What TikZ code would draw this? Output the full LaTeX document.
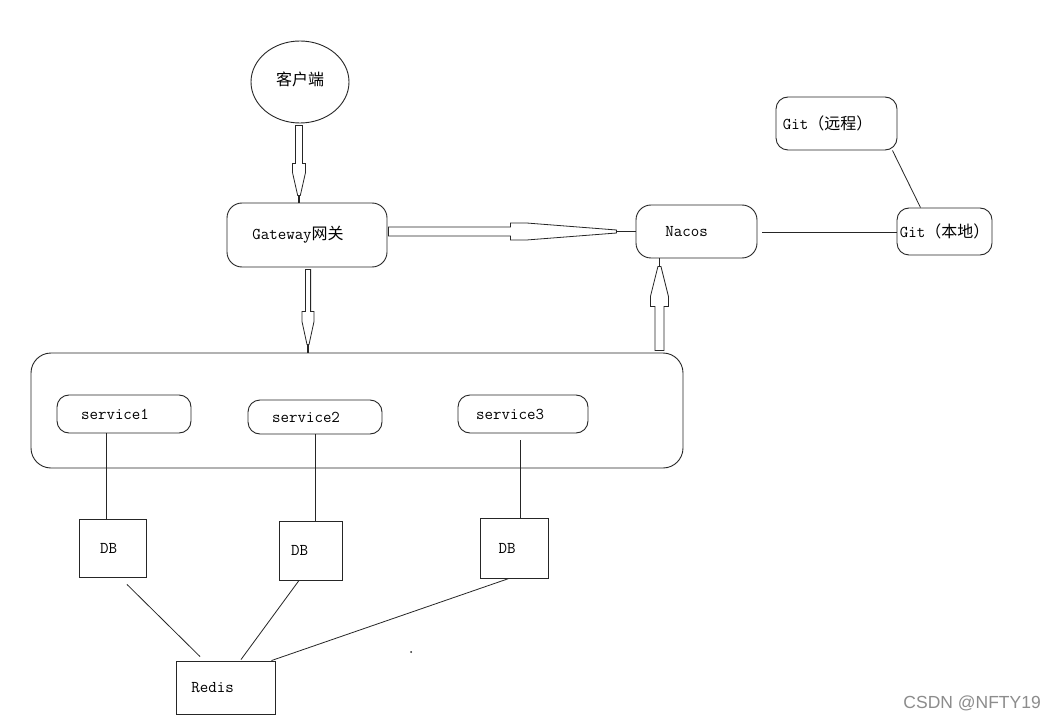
\documentclass[tikz,border=0pt]{standalone}
\usepackage{fontspec}
\newfontfamily\cjk{Noto Sans CJK SC}
\newfontfamily\wmfont{Liberation Sans}
\usetikzlibrary{calc,shapes.geometric}
\newcommand{\sh}[2]{\kern-#1pt#2\kern#1pt}
\newcommand{\zh}[1]{{\cjk\fontsize{16}{18}\selectfont #1}}
% vertical hollow arrow: start, end, dir(+1 down,-1 up), shaft half, head half, d step, d straight, d tip, tip half
\newcommand{\vhollow}[9]{%
\draw[hollow] ($(#1)+({-(#4)},{(#3)*2})$) -- ($(#2)+({-(#4)},{-(#3)*(#6)})$) -- ($(#2)+({-(#5)},{-(#3)*(#6)})$) -- ($(#2)+({-(#5)},{-(#3)*(#7)})$) -- ($(#2)+({-(#9)},{-(#3)*(#8)})$) -- ($(#2)+({#9},{-(#3)*(#8)})$) -- ($(#2)+({#5},{-(#3)*(#7)})$) -- ($(#2)+({#5},{-(#3)*(#6)})$) -- ($(#2)+({#4},{-(#3)*(#6)})$) -- ($(#1)+({#4},{(#3)*2})$) -- cycle;
\draw[tipline] ($(#2)+(0,{-(#3)*(#8)})$) -- (#2);}
% horizontal hollow arrow
\newcommand{\hhollow}[9]{%
\draw[hollow] ($(#1)+({(#3)*1},{-(#4)})$) -- ($(#2)+({-(#3)*(#6)},{-(#4)})$) -- ($(#2)+({-(#3)*(#6)},{-(#5)})$) -- ($(#2)+({-(#3)*(#7)},{-(#5)})$) -- ($(#2)+({-(#3)*(#8)},{-(#9)})$) -- ($(#2)+({-(#3)*(#8)},{#9})$) -- ($(#2)+({-(#3)*(#7)},{#5})$) -- ($(#2)+({-(#3)*(#6)},{#5})$) -- ($(#2)+({-(#3)*(#6)},{#4})$) -- ($(#1)+({(#3)*1},{#4})$) -- cycle;
\draw[tipline] ($(#2)+({-(#3)*(#8)},0)$) -- (#2);}
\begin{document}
\begin{tikzpicture}[x=1pt,y=-1pt,
  every node/.style={font=\ttfamily\fontsize{16.5}{18}\selectfont, inner sep=0pt},
  rbox/.style={draw=black!85, line width=0.9pt, rounded corners=12pt},
  sbox/.style={draw=black!85, line width=0.9pt},
  ell/.style={draw=black!85, line width=0.9pt, ellipse},
  ln/.style={draw=black!85, line width=0.8pt},
  hollow/.style={draw=black!85, fill=white, line width=0.8pt, line join=miter},
  tipline/.style={draw=black!85, line width=1.6pt}]
\useasboundingbox (0,0) rectangle (1054,719);
\fill[white] (0,0) rectangle (1054,719);

% nodes
\node[ell, minimum width=98, minimum height=82] (client) at (300,82) {\raisebox{6pt}{\zh{客户端}}};
\node[rbox, rounded corners=15pt, minimum width=160, minimum height=64] (gw) at (307,235) {\sh{9}{Gateway\zh{网关}}};
\node[rbox, rounded corners=15pt, minimum width=121, minimum height=53] (nacos) at (696.5,231.5) {\sh{10}{Nacos}};
\node[rbox, minimum width=121, minimum height=53] (gitr) at (836.5,123.5) {\sh{9}{Git\zh{（远程）}}};
\node[rbox, minimum width=95, minimum height=47] (gitl) at (944.5,231.5) {Git\zh{（本地）}};
\node[rbox, rounded corners=20pt, minimum width=652, minimum height=115] (cont) at (357,410.5) {};
\node[rbox, minimum width=134, minimum height=38] (s1) at (124,414) {\sh{9}{service1}};
\node[rbox, minimum width=134, minimum height=34] (s2) at (315,417) {\sh{9}{service2}};
\node[rbox, minimum width=130, minimum height=38] (s3) at (523,414) {\sh{13}{service3}};
\node[sbox, minimum width=67, minimum height=58] (db1) at (112.5,548) {\sh{4}{DB}};
\node[sbox, minimum width=63, minimum height=59] (db2) at (310.5,550.5) {\sh{11}{DB}};
\node[sbox, minimum width=68, minimum height=60] (db3) at (514,548) {\sh{7}{DB}};
\node[sbox, minimum width=99, minimum height=53] (redis) at (225.5,687.5) {\sh{13}{Redis}};
\node[anchor=east, text=black!45, font=\wmfont\fontsize{17.5}{20}\selectfont] (wm) at (1041,703) {CSDN @NFTY19};

% hollow arrows
\coordinate (a1s) at ($(client.south)+(-1,0)$);
\coordinate (a1e) at (a1s |- gw.north);
\vhollow{a1s}{a1e}{1}{3.5}{6.5}{39}{30}{7}{1.3}

\coordinate (a2s) at (gw.east |- nacos.west);
\coordinate (a2e) at (nacos.west);
\hhollow{a2s}{a2e}{1}{4.5}{8.5}{125}{109}{19}{1.5}

\coordinate (a3s) at ($(gw.south)+(1,0)$);
\coordinate (a3e) at (a3s |- cont.north);
\vhollow{a3s}{a3e}{1}{2.6}{6}{41}{31}{8}{1}

\coordinate (a4s) at ($(cont.north east)+(-24,0)$);
\coordinate (a4e) at (a4s |- nacos.south);
\vhollow{a4s}{a4e}{-1}{4.5}{9}{48}{38}{8}{1.5}

% plain connectors
\draw[ln] ($(nacos.east)+(5,1)$) -- ($(gitl.west)+(0,1)$);
\draw[ln] ($(gitr.south east)+(-5,0)$) -- ($(gitl.north)+(-24,0)$);
\draw[ln] ($(s1.south)+(-18,0)$) -- ($(db1.north)+(-6.5,0)$);
\coordinate (c2) at (s2.south |- db2.north);
\draw[ln] (s2.south) -- (c2);
\coordinate (c3) at (s3.south |- db3.north);
\draw[ln] ($(s3.south)+(-3,7)$) -- ($(c3)+(-3,0)$);
\draw[ln] ($(db1.south)+(14.5,7)$) -- ($(redis.north)+(-25.5,-4)$);
\draw[ln] ($(db2.south)+(-11.5,0)$) -- ($(redis.north)+(15.5,-1)$);
\draw[ln] ($(db3.south)+(-5,0)$) -- ($(redis.north east)+(-4,0)$);

% stray dot
\fill[black!85] (411,652) circle (1);
\end{tikzpicture}
\end{document}
